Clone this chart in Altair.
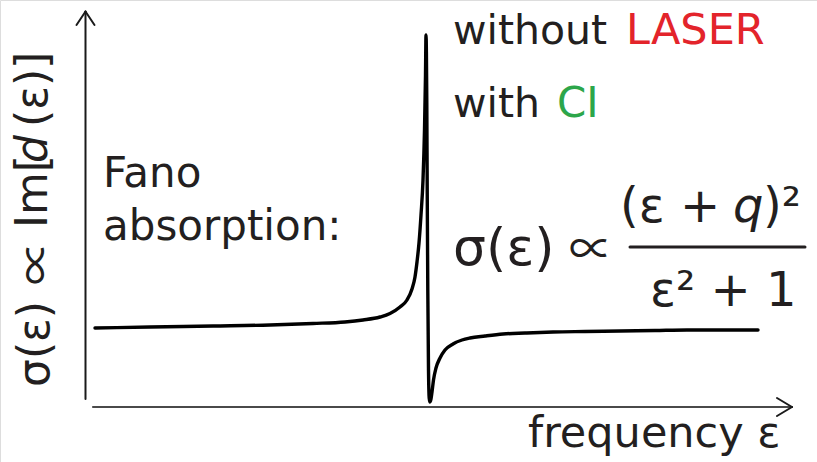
import altair as alt
import pandas as pd

# Fano absorption profile (arbitrary units)
frequency = [95, 150, 213, 270, 313, 345, 363, 380, 390, 400, 407, 412, 415, 417, 419,
             421, 423, 424.5, 425.5, 426, 426.4, 426.8, 427.2, 427.8, 428.5, 429.2, 430,
             431, 432, 433.5, 436, 440, 445, 453, 462, 470, 485, 503, 525, 553, 585,
             620, 655, 687, 720, 758]
sigma = [134, 135, 136, 137, 138.5, 140, 142, 145, 148.5, 155, 162, 173, 185, 200, 219,
         247, 282, 332, 387, 427, 410, 360, 275, 172, 92, 64, 60,
         63, 70, 82, 94, 104, 112, 118, 122, 124, 126, 128, 129, 130, 130.5,
         131, 131.5, 132, 132, 132]

curve = pd.DataFrame({"frequency": frequency, "sigma": sigma})

xs = alt.Scale(domain=[0, 817], nice=False, zero=False)
ys = alt.Scale(domain=[0, 462], nice=False, zero=False)

line = alt.Chart(curve).mark_line(
    color="black", strokeWidth=3.4, strokeCap="round", strokeJoin="round",
    interpolate="monotone"
).encode(
    x=alt.X("frequency:Q", scale=xs, axis=None),
    y=alt.Y("sigma:Q", scale=ys, axis=None),
)

one = alt.Data(values=[{"k": 0}])


def rule(x1, y1, x2, y2, color="#222222", w=2.0):
    return alt.Chart(one).mark_rule(color=color, strokeWidth=w, strokeCap="round").encode(
        x=alt.value(x1), y=alt.value(y1), x2=alt.value(x2), y2=alt.value(y2)
    )


def txt(s, x, y, size, color="#231f20", style="normal", angle=0, font="DejaVu Sans"):
    return alt.Chart(one).mark_text(
        font=font, fontSize=size, color=color, align="left",
        baseline="alphabetic", fontStyle=style, angle=angle
    ).encode(x=alt.value(x), y=alt.value(y), text=alt.value(s))


axes = [
    rule(85.5, 399, 85.5, 11.5, "#1a1a1a", 2.0),
    rule(76.5, 25, 85.5, 11.5, "#1a1a1a", 2.0),
    rule(94.5, 25, 85.5, 11.5, "#1a1a1a", 2.0),
    rule(93, 407, 792, 407, "#4a4a4a", 2.2),
    rule(777, 398, 792, 407, "#1a1a1a", 2.0),
    rule(777, 416, 792, 407, "#1a1a1a", 2.0),
]

red = "#e3242b"
green = "#2ca64a"
cjk = "Noto Sans CJK JP"

texts = [
    txt("without", 453, 44, 41),
    txt("LASER", 626, 44, 43, red),
    txt("with", 453, 117, 41),
    txt("CI", 557, 117, 42, green),
    txt("Fano", 103, 187, 42),
    txt("absorption:", 103, 240, 42),
    txt("frequency ε", 528, 447, 43),
    txt("σ(ε)", 453, 265, 52),
    txt("∝", 569, 265, 44, font=cjk),
    txt("(ε + ", 620, 222, 48),
    txt("q", 733, 222, 48, style="italic"),
    txt(")²", 763, 222, 48),
    rule(630, 247, 805, 247, "#231f20", 3.0),
    txt("ε² + 1", 650, 306, 48),
    txt("σ(ε)", 49, 387, 44, angle=270),
    txt("∝", 52, 285, 44, angle=270, font=cjk),
    txt("Im[", 47, 228, 44, angle=270),
    txt("d", 47, 163, 44, style="italic", angle=270),
    txt("(ε)]", 47, 127, 44, angle=270),
]

chart = alt.layer(line, *axes, *texts).properties(
    width=817, height=462, padding=0, autosize=alt.AutoSizeParams(type="none")
).configure_view(stroke=None).configure(background="white")

chart.save("out.html", embed_options={"renderer": "svg", "actions": False})
